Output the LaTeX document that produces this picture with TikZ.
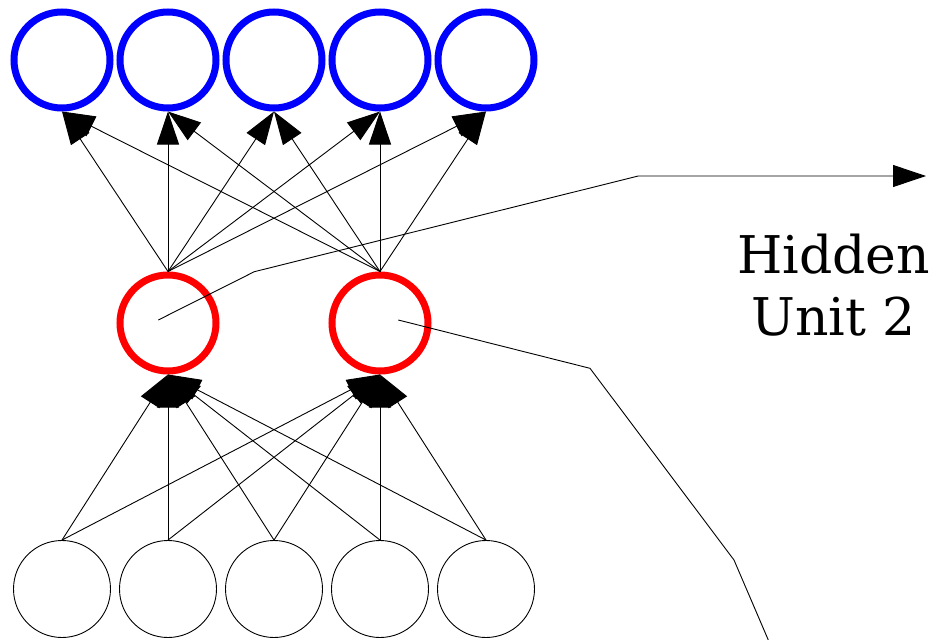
\documentclass[tikz,border=0pt]{standalone}
\usepackage{fontspec}
\setmainfont{DejaVu Serif}
\usetikzlibrary{arrows.meta}
\tikzset{
  outunit/.style={circle, draw=blue, line width=7pt, minimum size=96pt, inner sep=0pt},
  hidunit/.style={circle, draw=red, line width=7pt, minimum size=96pt, inner sep=0pt},
  inunit/.style={circle, draw=black, line width=0.9pt, minimum size=97pt, inner sep=0pt},
  wire/.style={line width=0.9pt},
  bigtip/.style={-{Triangle[length=33pt,width=22pt]}},
}
\begin{document}
\begin{tikzpicture}[x=1pt,y=-1pt]
      \useasboundingbox[fill=white] (0,0) rectangle (935,640);
      % Output Units
      \node[outunit] (o1) at (62, 60) {};
      \node[outunit] (o2) at (168, 60) {};
      \node[outunit] (o3) at (274, 60) {};
      \node[outunit] (o4) at (380, 60) {};
      \node[outunit] (o5) at (486, 60) {};
      % Hidden Units
      \node[hidunit] (h1) at (168, 323) {};
      \node[hidunit] (h2) at (380, 323) {};
      % Input Units
      \node[inunit] (i1) at (62, 589) {};
      \node[inunit] (i2) at (168, 589) {};
      \node[inunit] (i3) at (274, 589) {};
      \node[inunit] (i4) at (380, 589) {};
      \node[inunit] (i5) at (486, 589) {};
      %
      % Connection Edges:
      \foreach \h in {1,2} {
        \foreach \k in {1,...,5} {
          \draw[wire, bigtip] (i\k.north) -- (h\h.south);
        }
      }
      \foreach \h in {1,2} {
        \foreach \k in {1,...,5} {
          \draw[wire, bigtip] (h\h.north) -- (o\k.south);
        }
      }
      %
      % Label and Leads:
      \node (lab) at (833.5, 285.5) [align=center, font=\fontsize{52}{62}\selectfont] {Hidden\\Unit 2};
      \coordinate (tipa) at (926, 176);
      \coordinate (endb) at (768.3, 640);
      \draw[wire, bigtip] ([shift={(-9.7,-3)}]h1.center) -- (254.3, 271.7) -- (638.3, 176) -- (tipa);
      \draw[wire] ([shift={(18.3,-3)}]h2.center) -- (590, 368.3) -- (734, 560) -- (endb);
\end{tikzpicture}
\end{document}
